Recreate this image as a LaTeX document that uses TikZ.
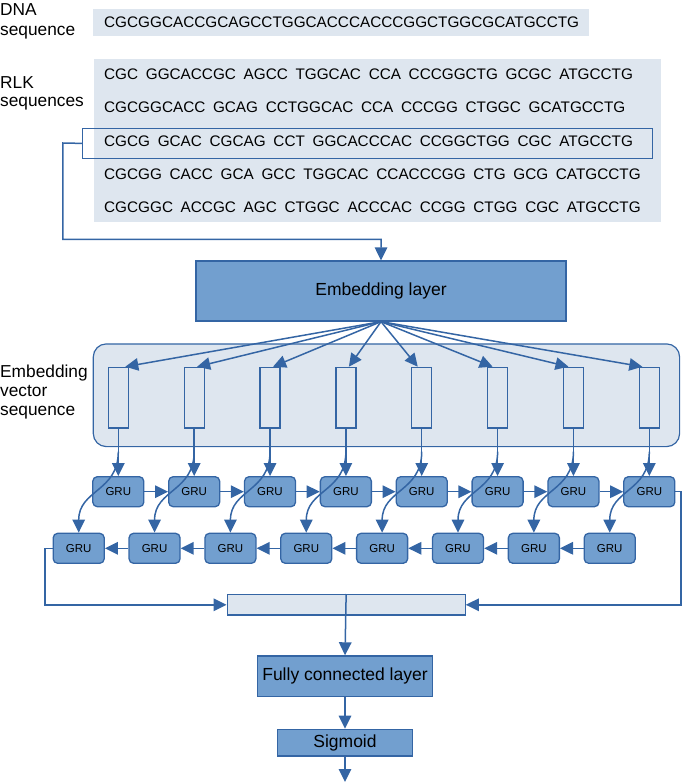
\documentclass[tikz,border=0pt]{standalone}
\usepackage{fontspec}
\setmainfont{Liberation Sans}
\usetikzlibrary{arrows.meta}
\definecolor{bfill}{HTML}{729FCF}
\definecolor{bline}{HTML}{3465A4}
\definecolor{lfill}{HTML}{DEE6EF}
\newcommand\seqgap{\hspace*{7.7pt}}
\newcommand\setfs[1]{\fontsize{#1}{#1}\selectfont}
\begin{document}
\begin{tikzpicture}[x=1pt,y=-1pt,
  conn/.style={draw=bline, line width=1.5pt},
  arr/.style={draw=bline, line width=1.5pt, -{Triangle[length=13pt,width=12.5pt]}},
  darkbox/.style={draw=bline, fill=bfill, line width=1.3pt, inner sep=0pt},
  lightbox/.style={fill=lfill, inner sep=0pt},
  vecbox/.style={draw=bline, fill=lfill, line width=1.3pt, inner sep=0pt, minimum width=20pt, minimum height=60.6pt},
  grubox/.style={darkbox, rounded corners=4.5pt, minimum width=51pt, minimum height=30pt, font=\setfs{11.5}},
  lbl/.style={inner sep=0pt, font=\setfs{17.3}, anchor=base west},
  seqtxt/.style={inner sep=0pt, font=\setfs{15.3}, anchor=west},
]
\useasboundingbox (0,0) rectangle (685,783);

% labels
\node[lbl] (ldna1) at (0,15.5) {DNA};
\node[lbl] (ldna2) at (0,35.5) {sequence};
\node[lbl] (lrlk1) at (0,88.5) {RLK};
\node[lbl] (lrlk2) at (0,107) {sequences};
\node[lbl] (lemb1) at (0,377) {Embedding};
\node[lbl] (lemb2) at (0,396.5) {vector};
\node[lbl] (lemb3) at (0,415.5) {sequence};

% DNA sequence
\node[lightbox, anchor=north west, minimum width=496pt, minimum height=26.7pt] (dna) at (92.5,9) {};
\node[seqtxt] (dnat) at (104,22.4) {CGCGGCACCGCAGCCTGGCACCCACCCGGCTGGCGCATGCCTG};

% RLK sequences
\node[lightbox, anchor=north west, minimum width=567.5pt, minimum height=162.4pt] (rlk) at (93.5,59.3) {};
\node[seqtxt] (r1) at (104,74) {CGC\seqgap GGCACCGC\seqgap AGCC\seqgap TGGCAC\seqgap CCA\seqgap CCCGGCTG\seqgap GCGC\seqgap ATGCCTG};
\node[seqtxt] (r2) at (104,107.5) {CGCGGCACC\seqgap GCAG\seqgap CCTGGCAC\seqgap CCA\seqgap CCCGG\seqgap CTGGC\seqgap GCATGCCTG};
\node[seqtxt] (r3) at (104,141.5) {CGCG\seqgap GCAC\seqgap CGCAG\seqgap CCT\seqgap GGCACCCAC\seqgap CCGGCTGG\seqgap CGC\seqgap ATGCCTG};
\node[seqtxt] (r4) at (104,174.5) {CGCGG\seqgap CACC\seqgap GCA\seqgap GCC\seqgap TGGCAC\seqgap CCACCCGG\seqgap CTG\seqgap GCG\seqgap CATGCCTG};
\node[seqtxt] (r5) at (104,207.5) {CGCGGC\seqgap ACCGC\seqgap AGC\seqgap CTGGC\seqgap ACCCAC\seqgap CCGG\seqgap CTGG\seqgap CGC\seqgap ATGCCTG};
\node[draw=bline, line width=1.4pt, inner sep=0pt, anchor=north west, minimum width=569.7pt, minimum height=30pt] (hl) at (82,127.7) {};

% embedding layer
\node[darkbox, minimum width=370pt, minimum height=60pt] (emb) at (381,291) {\setfs{17.5}Embedding layer};
\coordinate (bend1) at (62.8,143);
\coordinate (bend2) at (381,239.3);
\draw[arr] (hl.west) -- (bend1) |- (bend2) -- (emb.north);

% embedding vector sequence
\node[lightbox, draw=bline, line width=1.2pt, rounded corners=13pt, anchor=north west, minimum width=586.3pt, minimum height=102.7pt] (evs) at (92.7,343.3) {};

\foreach \i in {1,...,8}{
  \pgfmathsetmacro{\cx}{118.3+(\i-1)*75.86}
  \pgfmathsetmacro{\lx}{\cx-39.6}
  \node[vecbox, anchor=north] (vec\i) at (\cx,366.7) {};
  \node[grubox] (gu\i) at (\cx,491.7) {GRU};
  \node[grubox] (gl\i) at (\lx,548.3) {GRU};
}

% concat, FC, sigmoid
\node[lightbox, draw=bline, line width=1.3pt, anchor=north west, minimum width=238pt, minimum height=20.3pt] (cat) at (226.5,594) {};
\node[darkbox, minimum width=175pt, minimum height=40.7pt] (fc) at (345,676.3) {\setfs{17.5}Fully connected layer};
\node[darkbox, minimum width=134.4pt, minimum height=26.7pt] (sig) at (345,742.6) {\setfs{17.5}Sigmoid};
\coordinate (outp) at (345,782);

% connectors embedding -> vectors
\foreach \i/\o in {1/7,2/3,3/3,4/3,5/-4,6/-5,7/-5,8/-7}{
  \draw[arr] (emb.south) -- ([xshift=\o pt]vec\i.north);
}
\foreach \i in {1,...,8}{
  \draw[arr] (vec\i.south) -- (gu\i.north);
  \draw[arr] ([yshift=-23pt]vec\i.south) .. controls +(0,40) and +(0,-43) .. (gl\i.north);
}
\foreach \i [evaluate=\i as \j using int(\i+1)] in {1,...,7}{
  \draw[arr] (gu\i.east) -- (gu\j.west);
  \draw[arr] (gl\j.west) -- (gl\i.east);
}
\coordinate (rt) at (681,491.7);
\coordinate (lf) at (45,548.3);
\draw[arr] (gu8.east) -- (rt) |- (cat.east);
\draw[arr] (gl1.west) -- (lf) |- (cat.west);
\draw[arr] (cat.north) -- (fc.north);
\draw[arr] (fc.south) -- (sig.north);
\draw[arr] (sig.south) -- (outp);
\end{tikzpicture}
\end{document}
